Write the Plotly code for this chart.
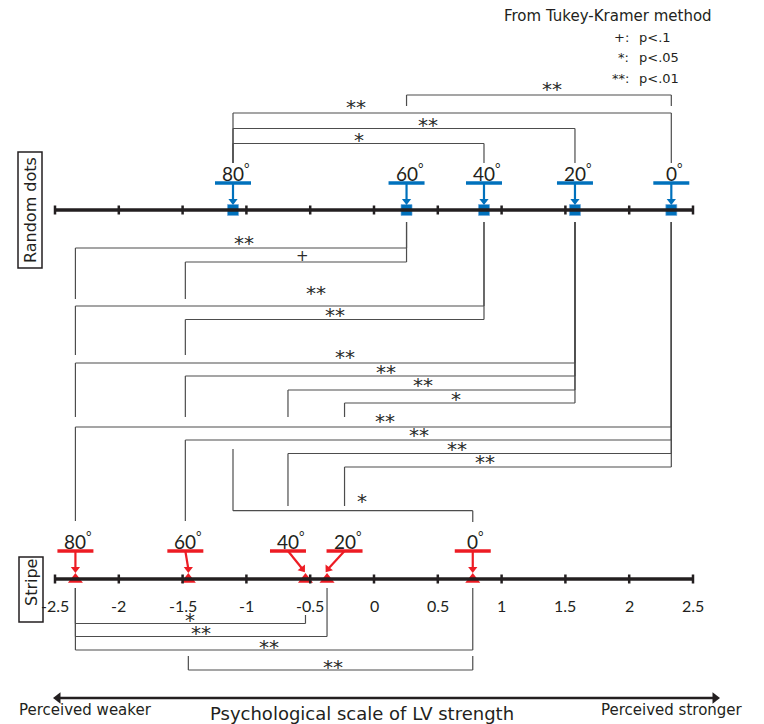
import plotly.graph_objects as go

# ---------------- data ----------------
conditions = ["80", "60", "40", "20", "0"]            # inclination angle (deg)
random_dots = [-1.105, 0.255, 0.862, 1.575, 2.330]     # psychological scale values
stripe = [-2.340, -1.455, -0.537, -0.368, 0.774]
tick_vals = [-2.5, -2, -1.5, -1, -0.5, 0, 0.5, 1, 1.5, 2, 2.5]
tick_text = ["-2.5", "-2", "-1.5", "-1", "-0.5", "0", "0.5", "1", "1.5", "2", "2.5"]

# Tukey-Kramer significant pairs
rd_pairs = [("60", "0", "**"), ("80", "0", "**"), ("80", "20", "**"), ("80", "40", "*")]
cross_pairs = [  # (random dots condition, stripe condition, mark)
    ("60", "80", "**"), ("60", "60", "+"),
    ("40", "80", "**"), ("40", "60", "**"),
    ("20", "80", "**"), ("20", "60", "**"), ("20", "40", "**"), ("20", "20", "*"),
    ("0", "80", "**"), ("0", "60", "**"), ("0", "40", "**"), ("0", "20", "**"),
]
cross_extra = ("80", "0", "*")   # random dots 80 vs stripe 0
st_pairs = [("80", "40", "*"), ("80", "20", "**"), ("80", "0", "**"), ("60", "0", "**")]
legend_marks = ["+:", "*:", "**:"]
legend_p = ["p&lt;.1", "p&lt;.05", "p&lt;.01"]

# ---------------- layout constants ----------------
W, H = 764, 724          # page size
OFF = 8                  # page body margin around the figure
PX = 127.6               # pixels per scale unit
X0 = 374                 # page column of scale 0
def xp(px):
    return (px - X0) / PX
def dx(px):
    return px / PX

BLUE = "#0071BC"
RED = "#ED1C24"
INK = "#231F20"
GREY = "#4D4D4D"
STAR_FONT = "DejaVu Sans"

Y_RD, Y_RD_BAR, Y_RD_LAB = 210, 183, 172
Y_ST, Y_ST_BAR, Y_ST_LAB = 579, 551, 540
BAR_HALF = dx(18)
st_label_shift = {"40": dx(-17.5), "20": dx(17.5), "60": dx(-3)}
st_tip_shift = {"40": dx(-3), "20": dx(1)}

rd = dict(zip(conditions, random_dots))
st = dict(zip(conditions, stripe))
st_lab = {c: st[c] + st_label_shift.get(c, 0) for c in conditions}

shapes = []
annotations = []
heads_x, heads_y, heads_ang, heads_col = [], [], [], []

def line(x0, y0, x1, y1, color=GREY, width=1.2):
    shapes.append(dict(type="line", xref="x", yref="y", x0=x0, y0=y0, x1=x1, y1=y1,
                       line=dict(color=color, width=width)))

def text(x, y, s, size=14, family="DejaVu Sans", color=INK, xanchor="center",
         yanchor="middle", angle=0):
    annotations.append(dict(x=x, y=y, xref="x", yref="y", text=s, showarrow=False,
                            font=dict(size=size, family=family, color=color),
                            xanchor=xanchor, yanchor=yanchor, textangle=angle))

def star(x, y, s):
    if "*" in s:
        text(x, y + 2, s, size=20, family=STAR_FONT, color="#2B2B2B")
    else:
        text(x, y, s, size=15, family=STAR_FONT, color="#2B2B2B")

def arrow(x0, y0, x1, y1, color, ang):
    line(x0, y0, x1, y1 - 3, color, 2.2)
    heads_x.append(x1)
    heads_y.append(y1 - 3)
    heads_ang.append(ang)
    heads_col.append(color)

# ---------------- axes ----------------
for yax in (Y_RD, Y_ST):
    line(tick_vals[0], yax, tick_vals[-1], yax, INK, 3.5)
    for t in tick_vals:
        line(t, yax - 4.5, t, yax + 4.5, INK, 2.5)
for t, s in zip(tick_vals, tick_text):
    text(t, 605, s, size=16, family="Lato", color=INK)

# ---------------- condition labels & arrows ----------------
for c in conditions:
    v = rd[c]
    line(v - BAR_HALF, Y_RD_BAR, v + BAR_HALF, Y_RD_BAR, BLUE, 3.5)
    arrow(v, Y_RD_BAR, v, 204, BLUE, 0)
    text(v + dx(3), Y_RD_LAB, c + "<sup>°</sup>", size=19, family="Lato")
    v2 = st_lab[c]
    line(v2 - BAR_HALF, Y_ST_BAR, v2 + BAR_HALF, Y_ST_BAR, RED, 3.5)
    ang = -37 if c == "40" else (37 if c == "20" else 0)
    arrow(v2, Y_ST_BAR, st[c] + st_tip_shift.get(c, 0), 572, RED, ang)
    text(v2 + dx(3), Y_ST_LAB, c + "<sup>°</sup>", size=19, family="Lato")

# ---------------- brackets: within random dots ----------------
rd_levels = [95, 113, 128.5, 143.5]
rd_leg_bottom = [106, 163, 163, 163]
rd_star_frac = [0.55, 0.28, 0.57, 0.5]
rd_star_rise = [8, 8, 6, 6]
for (a, b, m), lv, lb, fr, rs in zip(rd_pairs, rd_levels, rd_leg_bottom, rd_star_frac, rd_star_rise):
    xa, xb = rd[a], rd[b]
    line(xa, lv, xb, lv)
    line(xa, lv, xa, lb)
    line(xb, lv, xb, lb)
    star(xa + (xb - xa) * fr, lv - rs, m)

# ---------------- brackets: random dots vs stripe ----------------
cross_levels = [248, 262, 306, 319.5, 363, 376, 390, 403, 427, 440, 453.5, 467]
cross_leg_bottom = [299, 299, 355, 355, 417, 417, 417, 417, 521, 521, 506, 506]
cross_star_frac = [0.51, 0.53, 0.59, 0.5, 0.54, 0.515, 0.47, 0.485, 0.52, 0.48, 0.44, 0.43]
cross_star_rise = [7.5, 6.5, 15, 6.5, 8, 6, 7, 6, 8, 7, 7, 7]
Y_TOP_LEG = 222
for (a, b, m), lv, lb, fr, rs in zip(cross_pairs, cross_levels, cross_leg_bottom,
                                     cross_star_frac, cross_star_rise):
    xa, xb = rd[a], st_lab[b]
    line(xa, Y_TOP_LEG, xa, lv)
    line(xb, lv, xa, lv)
    line(xb, lv, xb, lb)
    star(xb + (xa - xb) * fr, lv - rs, m)

a, b, m = cross_extra
xa, xb = rd[a], st_lab[b]
line(xa, 449, xa, 510.7)
line(xa, 510.7, xb, 510.7)
line(xb, 510.7, xb, 522)
star(xa + (xb - xa) * 0.536, 499, m)

# ---------------- brackets: within stripe ----------------
st_levels = [623.5, 636.5, 650, 670]
st_left_top = [588, 588, 588, 656]
st_right_top = [615, 588, 588, 656]
st_star_frac = [0.5, 0.5, 0.486, 0.51]
st_star_rise = [5.5, 5.5, 5.5, 5]
for (a, b, m), lv, lt, rt, fr, rs in zip(st_pairs, st_levels, st_left_top, st_right_top,
                                         st_star_frac, st_star_rise):
    xa, xb = st[a], st[b]
    line(xa, lv, xb, lv)
    line(xa, lt, xa, lv)
    line(xb, rt, xb, lv)
    star(xa + (xb - xa) * fr, lv - rs, m)

# ---------------- boxes / titles ----------------
shapes.append(dict(type="rect", xref="x", yref="y", x0=xp(18), x1=xp(42), y0=152, y1=268,
                   line=dict(color=INK, width=1.5)))
text(xp(30), 210, "Random dots", size=16, angle=-90)
shapes.append(dict(type="rect", xref="x", yref="y", x0=xp(19), x1=xp(43), y0=557, y1=622,
                   line=dict(color=INK, width=1.5)))
text(xp(31), 583, "Stripe", size=16, angle=-90)

text(xp(608), 16, "From Tukey-Kramer method", size=15)
for i, (mk, p) in enumerate(zip(legend_marks, legend_p)):
    yy = 37 + i * 20.5
    text(xp(631), yy, mk, size=13, xanchor="right")
    text(xp(637), yy, p, size=13, xanchor="left")

# scale arrow
line(xp(60), 698, xp(713), 698, INK, 2.5)
text(xp(85), 710, "Perceived weaker", size=15)
text(xp(362), 713, "Psychological scale of LV strength", size=18)
text(xp(672), 710, "Perceived stronger", size=15)

# ---------------- marks ----------------
fig = go.Figure()
fig.add_trace(go.Scatter(x=random_dots, y=[Y_RD] * len(random_dots), mode="markers",
                         marker=dict(symbol="square", size=11, color=BLUE,
                                     line=dict(color="#6FA8DC", width=0.6)),
                         hoverinfo="skip", showlegend=False))
fig.add_trace(go.Scatter(x=stripe, y=[Y_ST + 0.5] * len(stripe), mode="markers",
                         marker=dict(symbol="triangle-up", size=13, color=RED),
                         hoverinfo="skip", showlegend=False))
fig.add_trace(go.Scatter(x=heads_x, y=heads_y, mode="markers",
                         marker=dict(symbol="triangle-down", size=8, color=heads_col,
                                     angle=heads_ang, line=dict(width=0)),
                         hoverinfo="skip", showlegend=False))
fig.add_trace(go.Scatter(x=[xp(58), xp(715)], y=[698, 698], mode="markers",
                         marker=dict(symbol=["triangle-left", "triangle-right"], size=10,
                                     color=INK, line=dict(width=0)),
                         hoverinfo="skip", showlegend=False))

fig.update_layout(
    width=W - OFF, height=H - OFF, margin=dict(l=0, r=0, t=0, b=0),
    paper_bgcolor="white", plot_bgcolor="white",
    xaxis=dict(range=[xp(OFF), xp(W)], visible=False, fixedrange=True),
    yaxis=dict(range=[H, OFF], visible=False, fixedrange=True),
    shapes=shapes, annotations=annotations, showlegend=False,
)
fig.write_html("out.html")
